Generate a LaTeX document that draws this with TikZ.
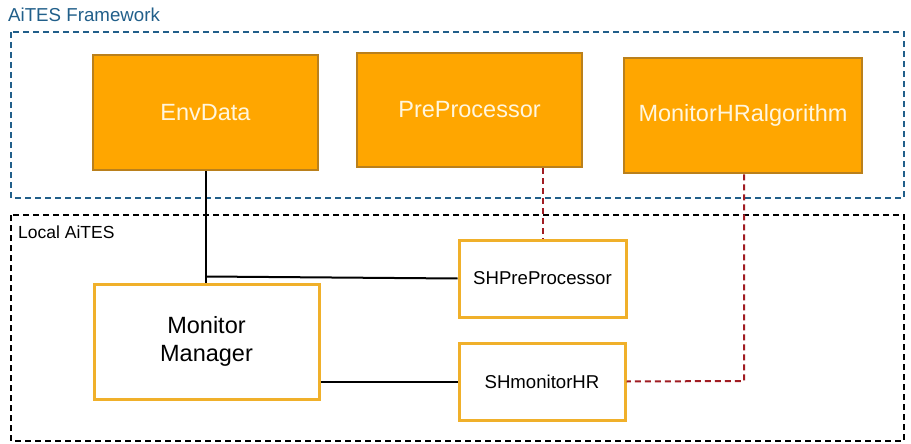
\documentclass[tikz,border=0pt]{standalone}
\usepackage{fontspec}
\setmainfont{Liberation Sans}
\usetikzlibrary{calc}
\definecolor{orfill}{RGB}{255,166,0}
\definecolor{ordraw}{RGB}{186,128,28}
\definecolor{shdraw}{RGB}{240,176,42}
\definecolor{frblue}{RGB}{33,95,138}
\definecolor{lnred}{RGB}{160,28,34}
\definecolor{txtcream}{RGB}{255,246,222}
\tikzset{
  fwbox/.style={draw=ordraw, fill=orfill, line width=2.5pt, text=txtcream, font=\fontsize{23.5}{28}\selectfont, inner sep=0pt},
  shbox/.style={draw=shdraw, fill=white, line width=3pt, text=black, font=\fontsize{18.6}{22}\selectfont, inner sep=0pt},
  mmbox/.style={draw=shdraw, fill=white, line width=3pt, text=black, font=\fontsize{23.5}{28.5}\selectfont, align=center, inner sep=0pt},
  area/.style={line width=2pt, dash pattern=on 6pt off 4pt},
  solidcon/.style={draw=black, line width=2pt},
  redcon/.style={draw=lnred, line width=2pt, dash pattern=on 6pt off 4pt},
}
\begin{document}
\begin{tikzpicture}[x=1pt,y=-1pt]
\useasboundingbox (0,0) rectangle (911,444);
% areas
\draw[area, draw=frblue] (11,32) rectangle (904,198);
\draw[area, draw=black] (11,215) rectangle (904,441);
\node[anchor=base west, text=frblue, font=\fontsize{18.7}{22}\selectfont, inner sep=0pt] (fwlabel) at (8,22) {AiTES Framework};
\node[anchor=base west, text=black, font=\fontsize{17.5}{20}\selectfont, inner sep=0pt] (locallabel) at (18,238) {Local AiTES};
% framework boxes
\node[fwbox, minimum width=225pt, minimum height=115pt] (env) at (205.5,112.5) {EnvData};
\node[fwbox, minimum width=225pt, minimum height=114pt] (pre) at (469.5,110) {PreProcessor};
\node[fwbox, minimum width=238pt, minimum height=115pt] (mhr) at (743,115.5) {MonitorHRalgorithm};
% local boxes
\node[shbox, minimum width=167pt, minimum height=77pt] (shpre) at (542.5,278.5) {SHPreProcessor};
\node[shbox, minimum width=166pt, minimum height=77pt] (shmon) at (542,381.5) {SHmonitorHR};
\node[mmbox, minimum width=225pt, minimum height=115pt] (mm) at (206.5,341.5) {Monitor\\Manager};
% connectors
\coordinate (junc) at (206,276.5);
\coordinate (bend) at (744,381);
\draw[solidcon] (env.south -| junc) -- (mm.north -| junc);
\draw[solidcon] (junc) -- (shpre.west);
\draw[solidcon] (mm.east |- shmon.west) -- (shmon.west);
\draw[redcon] (pre.south -| shpre.north) -- (shpre.north);
\draw[redcon] (mhr.south -| bend) -- (bend) -- (shmon.east);
\end{tikzpicture}
\end{document}
